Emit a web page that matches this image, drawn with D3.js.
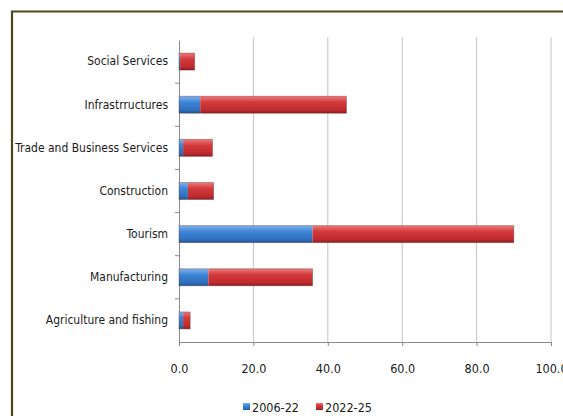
<!doctype html>
<html>
<head>
    <meta charset="utf-8">
    <title>D3.js</title>
    <style>
    body { margin:0; background:#fff; }
    text { font-family: "Liberation Sans Narrow", "DejaVu Sans Condensed", "Open Sans", sans-serif; fill:#1a1a1a; }
    </style>
</head>
<body>
  <div id="chart"></div>
  <script src="https://d3js.org/d3.v7.min.js"></script>
  <script>
  // data
  var categories = ["Social Services", "Infrastrructures", "Trade and Business Services",
    "Construction", "Tourism", "Manufacturing", "Agriculture and fishing"];
  var series1 = [0.3, 5.7, 1.1, 2.4, 35.9, 7.9, 1.1];   // 2006-22
  var series2 = [3.9, 39.3, 7.9, 6.9, 54.1, 28.0, 1.9]; // 2022-25
  var seriesNames = ["2006-22", "2022-25"];
  var xTicks = [0, 20, 40, 60, 80, 100];

  var width = 563, height = 416;
  var margin = {top: 40, left: 179, right: 12, bottom: 74};

  var svg = d3.select("#chart").append("svg")
    .attr("width", width).attr("height", height);

  // gradients
  var defs = svg.append("defs");
  function grad(id, stops) {
    var g = defs.append("linearGradient").attr("id", id)
      .attr("x1", 0).attr("y1", 0).attr("x2", 0).attr("y2", 1);
    stops.forEach(function(s) {
      g.append("stop").attr("offset", s[0]).attr("stop-color", s[1]);
    });
  }
  grad("gBlue", [[0, "#7fb2ea"], [0.35, "#3f86d6"], [0.8, "#2f6fbf"], [1, "#24558f"]]);
  grad("gRed", [[0, "#ee7a7a"], [0.35, "#d23a3c"], [0.8, "#c12a2e"], [1, "#8e1e22"]]);

  // frame
  svg.append("path")
    .attr("d", "M12," + height + " V11.5 H" + width)
    .attr("fill", "none").attr("stroke", "#4a4a1c").attr("stroke-width", 2.2);

  var x = d3.scaleLinear().domain([0, 100]).range([margin.left, 551]);
  var y = d3.scaleBand().domain(categories).range([margin.top, 342]);

  // grid
  svg.append("g").selectAll("line")
    .data(xTicks.slice(1))
    .enter().append("line")
    .attr("x1", function(d) { return x(d); }).attr("x2", function(d) { return x(d); })
    .attr("y1", 37).attr("y2", 342)
    .attr("stroke", "#c4c4c4").attr("stroke-width", 1);

  // x axis
  var xAxis = svg.append("g").attr("transform", "translate(0,342)")
    .call(d3.axisBottom(x).tickValues(xTicks).tickSize(4).tickFormat(d3.format(".1f")));
  xAxis.select(".domain").attr("stroke", "#8a8a8a");
  xAxis.selectAll(".tick line").attr("stroke", "#8a8a8a");
  xAxis.selectAll("text").attr("font-size", 12.5).attr("dy", "1.9em").attr("fill", "#1a1a1a");

  // y axis
  var yAxis = svg.append("g").attr("transform", "translate(" + margin.left + ",0)")
    .call(d3.axisLeft(y).tickSize(0).tickPadding(11));
  yAxis.select(".domain").attr("stroke", "#8a8a8a");
  var yText = yAxis.selectAll("text").attr("font-size", 13).attr("fill", "#1a1a1a");
  // fit longest label into the space the reference gives it (~153px)
  var longest = d3.max(yText.nodes(), function(n) { return n.getComputedTextLength(); });
  if (longest > 153) yText.attr("font-size", 13 * 153 / longest);
  // category separator ticks
  svg.append("g").selectAll("line")
    .data(categories.slice(1))
    .enter().append("line")
    .attr("x1", margin.left - 4).attr("x2", margin.left)
    .attr("y1", function(d) { return y(d); }).attr("y2", function(d) { return y(d); })
    .attr("stroke", "#8a8a8a");

  // bars
  var barH = 17;
  var bars = svg.append("g");
  categories.forEach(function(c, i) {
    var yy = y(c) + y.bandwidth() / 2 - barH / 2;
    bars.append("rect")
      .attr("x", x(0)).attr("y", yy)
      .attr("width", x(series1[i]) - x(0)).attr("height", barH)
      .attr("fill", "url(#gBlue)");
    bars.append("rect")
      .attr("x", x(series1[i])).attr("y", yy)
      .attr("width", x(series1[i] + series2[i]) - x(series1[i])).attr("height", barH)
      .attr("fill", "url(#gRed)");
    bars.append("rect")
      .attr("x", x(0)).attr("y", yy)
      .attr("width", x(series1[i] + series2[i]) - x(0)).attr("height", barH)
      .attr("fill", "none").attr("stroke", "#5a2a2a").attr("stroke-opacity", 0.45).attr("stroke-width", 0.8);
  });

  // legend
  var legend = svg.append("g");
  var legX = [243, 316];
  seriesNames.forEach(function(n, i) {
    legend.append("rect")
      .attr("x", legX[i]).attr("y", 403).attr("width", 7).attr("height", 7)
      .attr("fill", i === 0 ? "url(#gBlue)" : "url(#gRed)");
    legend.append("text")
      .attr("x", legX[i] + 9).attr("y", 411.5)
      .attr("font-size", 12.5).text(n);
  });
  </script>
</body>
</html>
